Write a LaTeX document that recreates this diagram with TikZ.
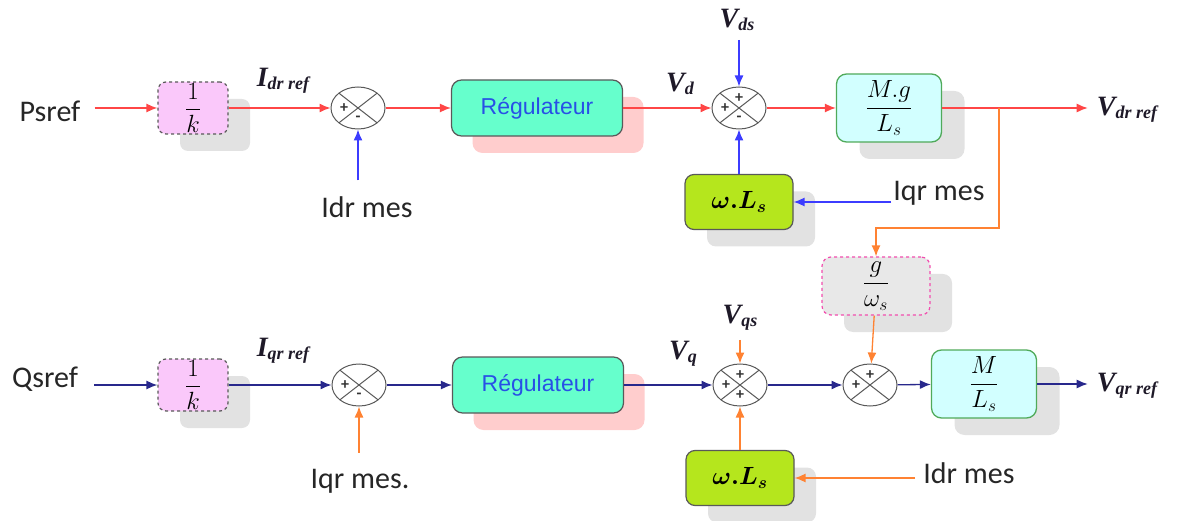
\documentclass[tikz,border=0pt]{standalone}
\usepackage{fontspec}
\setmainfont{Carlito}
\newfontfamily\regfont{Liberation Sans}
\newfontfamily\timesfont{Liberation Serif}
\usepackage{bm}
\usetikzlibrary{arrows}
\usetikzlibrary{arrows.meta}
\usetikzlibrary{positioning}
\usetikzlibrary{calc}
\usetikzlibrary{shapes.geometric}
\usetikzlibrary{shadows}

\definecolor{redline}{RGB}{255,70,70}
\definecolor{blueline}{RGB}{60,60,255}
\definecolor{navyline}{RGB}{40,40,140}
\definecolor{orangeline}{RGB}{255,130,50}
\definecolor{pinkfill}{RGB}{250,200,250}
\definecolor{mintfill}{RGB}{102,255,204}
\definecolor{limefill}{RGB}{181,230,29}
\definecolor{cyanfill}{RGB}{210,255,255}
\definecolor{gainborder}{RGB}{80,170,90}
\definecolor{shadowgray}{RGB}{226,226,226}
\definecolor{shadowpink}{RGB}{255,205,205}
\definecolor{labelink}{RGB}{30,25,40}
\definecolor{regtext}{RGB}{40,80,230}

\newcommand{\vlab}[2]{{\timesfont\bfseries\itshape\fontsize{28}{28}\selectfont #1\raisebox{-3pt}{\fontsize{18}{18}\selectfont #2}}}

\begin{document}
\begin{tikzpicture}[x=1pt,y=-1pt]
		\tikzset{txt/.style = {font=\fontsize{30}{30}\selectfont, text=black!85, inner sep=2pt}}
		\tikzset{vlabel/.style = {text=labelink, inner sep=1pt}}
		\tikzset{invk/.style = {rectangle, rounded corners=8pt, draw=black!65, dashed, line width=1.2pt, fill=pinkfill, minimum width=70pt, minimum height=52pt, inner sep=0pt, font=\fontsize{25}{28}\selectfont, drop shadow={shadow xshift=22pt, shadow yshift=-17pt, fill=shadowgray, opacity=1}}}
		\tikzset{regbox/.style = {rectangle, rounded corners=10pt, draw=black!65, line width=1.2pt, fill=mintfill, minimum width=171pt, minimum height=56pt, text=regtext, font=\regfont\fontsize{23}{23}\selectfont, drop shadow={shadow xshift=21pt, shadow yshift=-17pt, fill=shadowpink, opacity=1}}}
		\tikzset{wlsbox/.style = {rectangle, rounded corners=9pt, draw=black!65, line width=1.2pt, fill=limefill, minimum width=108pt, minimum height=55pt, font=\fontsize{26}{26}\selectfont, drop shadow={shadow xshift=22pt, shadow yshift=-17pt, fill=shadowgray, opacity=1}}}
		\tikzset{gainbox/.style = {rectangle, rounded corners=10pt, draw=gainborder, line width=1.3pt, fill=cyanfill, minimum width=105pt, minimum height=68pt, inner sep=0pt, font=\fontsize{25}{28}\selectfont, drop shadow={shadow xshift=23pt, shadow yshift=-17pt, fill=shadowgray, opacity=1}}}
		\tikzset{gwbox/.style = {rectangle, rounded corners=9pt, draw=magenta!70, dashed, line width=1.2pt, fill=gray!18, minimum width=108pt, minimum height=58pt, inner sep=0pt, font=\fontsize{23}{26}\selectfont, drop shadow={shadow xshift=22pt, shadow yshift=-17pt, fill=shadowgray, opacity=1}}}
		\tikzset{sumnode/.style = {ellipse, draw=black!65, line width=1pt, fill=white, minimum width=54pt, minimum height=42pt, inner sep=0pt,
				path picture={\draw[black!65, line width=1pt] (path picture bounding box.north west) -- (path picture bounding box.south east)
					(path picture bounding box.north east) -- (path picture bounding box.south west);}}}
		\tikzset{sign/.style = {font=\fontsize{16}{16}\selectfont\bfseries, text=black!80, inner sep=0pt}}
		\tikzset{edge/.style = {-{Latex[length=11pt,width=9pt]}, line width=1.3pt}}
		\tikzset{redarrow/.style = {edge, draw=redline}}
		\tikzset{bluearrow/.style = {edge, draw=blueline}}
		\tikzset{navyarrow/.style = {edge, draw=navyline}}
		\tikzset{orangearrow/.style = {edge, draw=orangeline}}
		\useasboundingbox (0,0) rectangle (1180,521);
		% top row
		\node[txt] (psref) at (50,111) {Psref};
		\node[invk] (k1) at (193,108) {$\displaystyle\frac{1}{k}$};
		\node[vlabel] (idref) at (283,81) {\vlab{I}{dr ref}};
		\node[sumnode] (s1) at (358,108) {};
		\node[txt] (idrtop) at (367,207) {Idr mes};
		\node[regbox] (reg1) at (537,108) {Régulateur};
		\node[vlabel] (vd) at (680,84) {\vlab{V}{d}};
		\node[vlabel] (vds) at (737,20) {\vlab{V}{ds}};
		\node[sumnode] (s2) at (739,108) {};
		\node[wlsbox] (wls1) at (739,202) {$\bm{\omega.L_s}$};
		\node[txt] (iqrtop) at (939,193) {Iqr mes};
		\node[gainbox] (mg) at (889,108) {$\displaystyle\frac{M.g}{L_s}$};
		\node[vlabel] (vdr) at (1127,110) {\vlab{V}{dr ref}};
		\node[gwbox] (gw) at (876,286) {$\displaystyle\frac{g}{\omega_s}$};
		\coordinate (br) at (999,108);
		\coordinate (bend) at (999,228);
		% bottom row
		\node[txt] (qsref) at (45,379) {Qsref};
		\node[invk] (k2) at (193,385) {$\displaystyle\frac{1}{k}$};
		\node[vlabel] (iqref) at (283,351) {\vlab{I}{qr ref}};
		\node[sumnode] (s4) at (359,385) {};
		\node[txt] (iqrbot) at (360,481) {Iqr mes.};
		\node[regbox] (reg2) at (538,385) {Régulateur};
		\node[vlabel] (vq) at (683,354) {\vlab{V}{q}};
		\node[vlabel] (vqs) at (740,318) {\vlab{V}{qs}};
		\node[sumnode] (s5) at (740,385) {};
		\node[wlsbox] (wls2) at (740,478) {$\bm{\omega.L_s}$};
		\node[txt] (idrbot) at (969,473) {Idr mes};
		\node[sumnode] (s6) at (870,385) {};
		\node[gainbox] (ml) at (984,384) {$\displaystyle\frac{M}{L_s}$};
		\node[vlabel] (vqr) at (1127,386) {\vlab{V}{qr ref}};
		% signs
		\node[sign] (s1l) at ([xshift=-14pt]s1.center) {+};
		\node[sign] (s1b) at ([yshift=-11pt]s1.center) {-};
		\node[sign] (s2t) at ([yshift=10pt]s2.center) {+};
		\node[sign] (s2l) at ([xshift=-14pt]s2.center) {+};
		\node[sign] (s2b) at ([yshift=-11pt]s2.center) {-};
		\node[sign] (s4l) at ([xshift=-14pt]s4.center) {+};
		\node[sign] (s4b) at ([yshift=-11pt]s4.center) {-};
		\node[sign] (s5t) at ([yshift=10pt]s5.center) {+};
		\node[sign] (s5l) at ([xshift=-14pt]s5.center) {+};
		\node[sign] (s5b) at ([yshift=-10pt]s5.center) {+};
		\node[sign] (s6t) at ([yshift=10pt]s6.center) {+};
		\node[sign] (s6l) at ([xshift=-14pt]s6.center) {+};
		%edges top
		\draw[redarrow] ([xshift=12pt]psref.east |- k1) -- (k1.west);
		\draw[redarrow] (k1) -- (s1);
		\draw[bluearrow] ([yshift=14pt]idrtop.north -| s1.south) -- (s1.south);
		\draw[redarrow] (s1) -- (reg1);
		\draw[redarrow] (reg1) -- (s2);
		\draw[bluearrow] ([yshift=-8pt]vds.south -| s2.north) -- (s2.north);
		\draw[bluearrow] (wls1) -- (s2);
		\draw[bluearrow] (iqrtop.west |- wls1) -- (wls1.east);
		\draw[redarrow] (s2) -- (mg);
		\draw[redarrow] (mg) -- ([xshift=-8pt]vdr.west |- mg);
		\draw[orangearrow] (br) -- (bend) -| (gw.north);
		\draw[orangearrow] (gw) -- (s6);
		%edges bottom
		\draw[navyarrow] ([xshift=14pt]qsref.east |- k2) -- (k2.west);
		\draw[navyarrow] (k2) -- (s4);
		\draw[orangearrow] ([yshift=14pt]iqrbot.north -| s4.south) -- (s4.south);
		\draw[navyarrow] (s4) -- (reg2);
		\draw[navyarrow] (reg2) -- (s5);
		\draw[orangearrow] ([yshift=-8pt]vqs.south -| s5.north) -- (s5.north);
		\draw[orangearrow] (wls2) -- (s5);
		\draw[orangearrow] ([xshift=-6pt]idrbot.west |- wls2) -- (wls2.east);
		\draw[navyarrow] (s5) -- (s6);
		\draw[navyarrow] (s6) -- (ml);
		\draw[navyarrow] (ml) -- ([xshift=-8pt]vqr.west |- ml);
\end{tikzpicture}
\end{document}
